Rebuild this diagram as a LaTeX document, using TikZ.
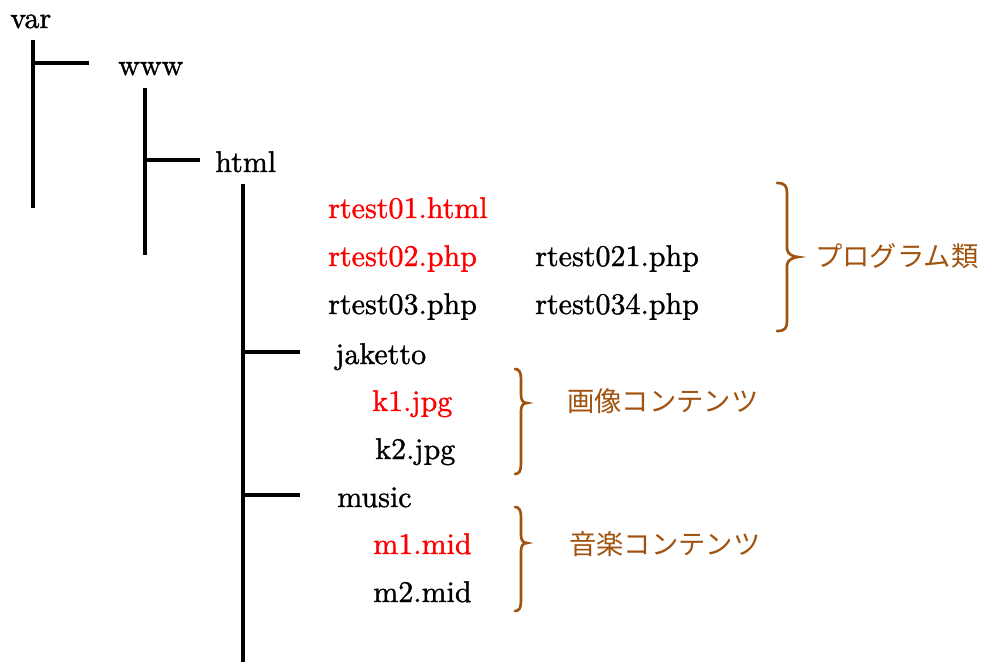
\documentclass[tikz,border=0pt]{standalone}
\usepackage{fontspec}
\newfontfamily\jpfont{Noto Sans CJK JP}
\newfontfamily\lmten{lmroman10-regular.otf}[FakeBold=1.2]
\definecolor{brownc}{RGB}{160,82,15}
\definecolor{redc}{RGB}{255,0,0}
\newcommand\drawbrace[6]{% xl xv xt ytop ytip ybot
  \draw[bracestyle] (#1,#4) .. controls (#2-2,#4) and (#2,#4+3) .. (#2,#4+10)
    -- (#2,#5-8) .. controls (#2,#5-3) and (#3-4,#5) .. (#3,#5)
    .. controls (#3-4,#5) and (#2,#5+3) .. (#2,#5+8)
    -- (#2,#6-10) .. controls (#2,#6-3) and (#2-2,#6) .. (#1,#6);}
\begin{document}
\begin{tikzpicture}[x=0.75pt,y=-0.75pt,
  txt/.style={anchor=base west,inner sep=0pt,font=\lmten\fontsize{22.5}{26}\selectfont},
  redtxt/.style={txt,text=redc},
  jp/.style={anchor=base west,inner sep=0pt,text=brownc,font=\jpfont\fontsize{20.5}{24}\selectfont},
  treeline/.style={line width=2.3pt},
  bracestyle/.style={draw=brownc,line width=2pt,line cap=round}]
\useasboundingbox (0,0) rectangle (984,662);
% texts
\node[txt] (var) at (10,28) {var};
\node[txt] (www) at (118,75) {www};
\node[txt] (html) at (215,172) {html};
\node[redtxt] (r01) at (328,218) {rtest01.html};
\node[redtxt] (r02) at (328,266) {rtest02.php};
\node[txt] (r021) at (535,266) {rtest021.php};
\node[txt] (r03) at (328,314) {rtest03.php};
\node[txt] (r034) at (535,314) {rtest034.php};
\node[txt] (jak) at (335,364) {jaketto};
\node[redtxt] (k1) at (372,411) {k1.jpg};
\node[txt] (k2) at (375,459) {k2.jpg};
\node[txt] (mus) at (337,507) {music};
\node[redtxt] (m1) at (373,554) {m1.mid};
\node[txt] (m2) at (373,602) {m2.mid};
\node[jp] (prog) at (815,266) {プログラム類};
\node[jp] (img) at (567,411) {画像コンテンツ};
\node[jp] (snd) at (569,554) {音楽コンテンツ};
% tree coordinates
\coordinate (v1t) at (33,40);
\coordinate (v1b) at (33,208);
\coordinate (h1a) at (33,63);
\coordinate (h1b) at (89,63);
\coordinate (v2t) at (145,88);
\coordinate (v2b) at (145,255);
\coordinate (h2a) at (145,160);
\coordinate (h2b) at (200,160);
\coordinate (v3t) at (243,184);
\coordinate (v3b) at (243,662);
\coordinate (h3a) at (243,352);
\coordinate (h3b) at (300,352);
\coordinate (h4a) at (243,495);
\coordinate (h4b) at (300,495);
\draw[treeline] (v1t) -- (v1b);
\draw[treeline] (h1a) -- (h1b);
\draw[treeline] (v2t) -- (v2b);
\draw[treeline] (h2a) -- (h2b);
\draw[treeline] (v3t) -- (v3b);
\draw[treeline] (h3a) -- (h3b);
\draw[treeline] (h4a) -- (h4b);
% braces
\drawbrace{777}{787}{798}{183}{257}{331}
\drawbrace{515}{521}{527}{369}{403}{474}
\drawbrace{515}{521}{527}{507}{543}{611}
\end{tikzpicture}
\end{document}
